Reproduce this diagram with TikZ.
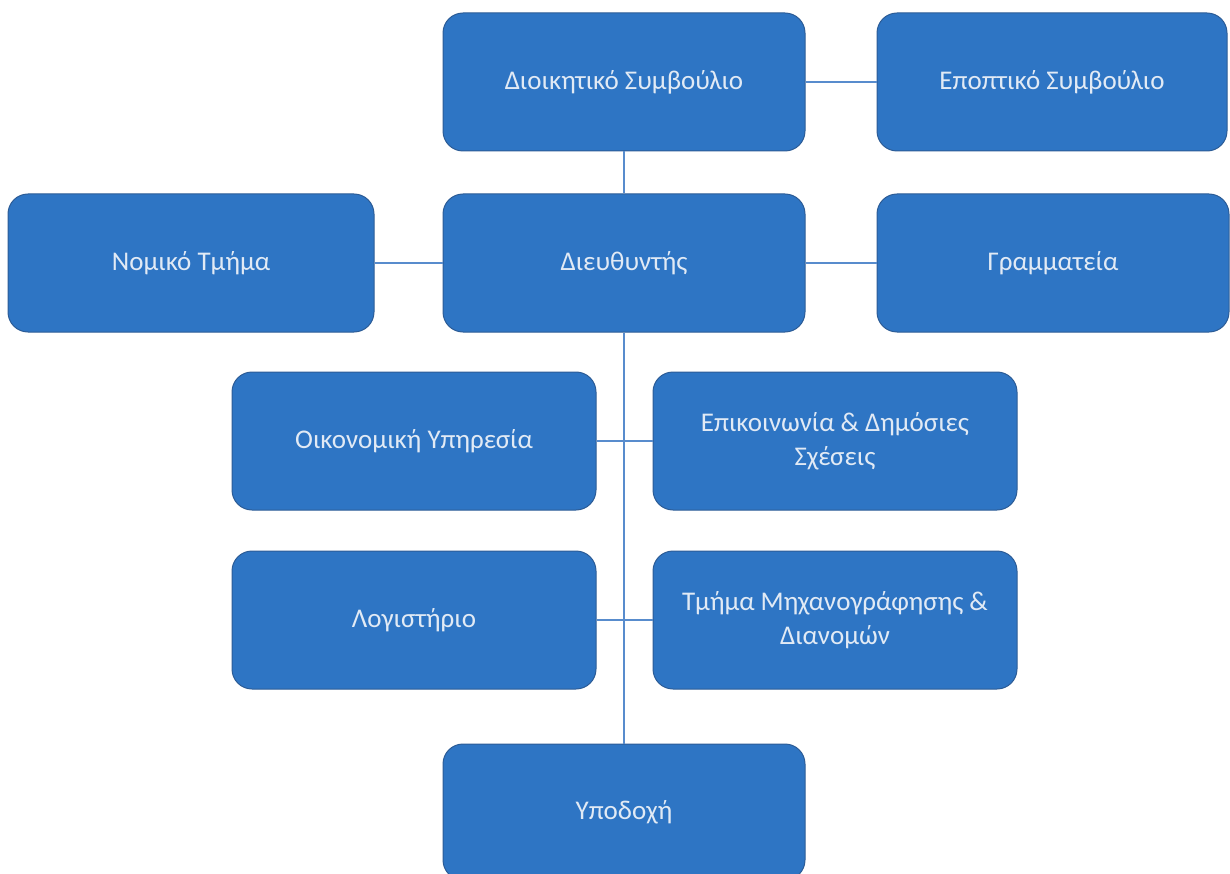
\documentclass[tikz,border=0pt]{standalone}
\usepackage{fontspec}
\setmainfont{Carlito}
\begin{document}
\begin{tikzpicture}[x=1pt,y=-1pt,
  orgbox/.style={draw=boxedge, line width=1pt, fill=boxfill, rounded corners=20pt,
    minimum width=362pt, minimum height=138pt, text=boxtext, align=center,
    font=\fontsize{27}{34}\selectfont, inner sep=4pt},
  link/.style={draw=linkcol, line width=2.2pt}]
\definecolor{boxfill}{RGB}{46,117,196}
\definecolor{boxedge}{RGB}{44,92,150}
\definecolor{boxtext}{RGB}{225,234,245}
\definecolor{linkcol}{RGB}{88,140,205}
\useasboundingbox (0,0) rectangle (1230,874);
\clip (0,0) rectangle (1230,874);
\node[orgbox] (dioik) at (624,82) {Διοικητικό Συμβούλιο};
\node[orgbox, minimum width=350pt] (epopt) at (1052,82) {Εποπτικό Συμβούλιο};
\node[orgbox, minimum width=366pt] (nomiko) at (191,263) {Νομικό Τμήμα};
\node[orgbox] (dieu) at (624,263) {Διευθυντής};
\node[orgbox, minimum width=352pt] (gramm) at (1053,263) {Γραμματεία};
\node[orgbox, minimum width=364pt] (oik) at (414,441) {Οικονομική Υπηρεσία};
\node[orgbox, minimum width=364pt] (epik) at (835,441) {Επικοινωνία \& Δημόσιες\\Σχέσεις};
\node[orgbox, minimum width=364pt] (logist) at (414,620) {Λογιστήριο};
\node[orgbox, minimum width=364pt] (tmima) at (835,620) {Τμήμα Μηχανογράφησης \&\\Διανομών};
\node[orgbox, minimum height=136pt] (ypod) at (624,812) {Υποδοχή};
\draw[link] (dioik) -- (epopt);
\draw[link] (dioik) -- (dieu);
\draw[link] (nomiko) -- (dieu);
\draw[link] (dieu) -- (gramm);
\draw[link] (dieu.south) -- (ypod.north);
\draw[link] (oik) -- (epik);
\draw[link] (logist) -- (tmima);
\end{tikzpicture}
\end{document}
